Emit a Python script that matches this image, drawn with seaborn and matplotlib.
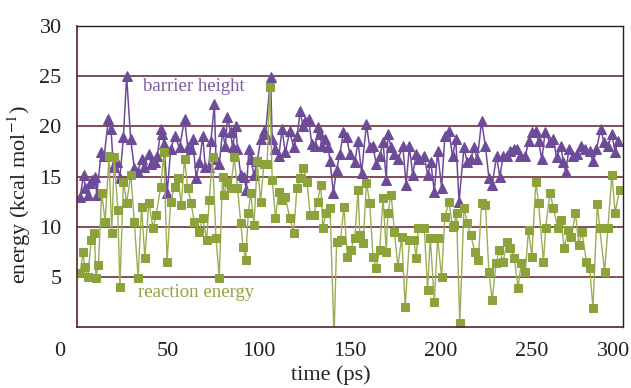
import numpy as np
import pandas as pd
import matplotlib
matplotlib.use("Agg")
import matplotlib.pyplot as plt
import matplotlib.transforms as mtransforms
import seaborn as sns

# barrier height (kcal/mol) vs time (ps)
barrier_time = [
    1.8, 3.6, 4.5, 6.0, 7.3, 8.5, 10.0, 10.9, 13.3, 14.9, 17.3, 18.7, 20.0, 21.8, 23.6, 25.5,
    27.3, 29.5, 31.5, 33.3, 35.5, 36.9, 39.5, 40.9, 42.7, 44.2, 46.0, 46.9, 47.8, 49.6, 51.5,
    53.6, 56.4, 59.1, 60.9, 62.7, 63.6, 65.5, 67.3, 69.1, 70.5, 72.4, 73.6, 75.5, 76.4, 78.2,
    80.0, 81.5, 82.7, 84.5, 85.5, 87.3, 88.2, 90.0, 91.8, 93.1, 94.5, 95.5, 97.3, 99.1, 100.9,
    102.7, 103.6, 106.4, 107.3, 109.1, 110.9, 112.7, 114.5, 116.9, 119.1, 120.9, 122.7, 124.2,
    125.5, 127.3, 129.1, 130.9, 132.7, 133.6, 134.5, 136.4, 138.2, 139.1, 140.9, 142.7, 144.5,
    146.4, 148.2, 150.0, 152.7, 154.5, 156.4, 159.1, 160.9, 162.7, 164.5, 166.4, 168.2, 170.0,
    170.9, 172.7, 174.5, 176.4, 179.1, 180.9, 182.7, 184.5, 186.4, 188.2, 190.9, 192.7, 194.5,
    196.4, 198.2, 200.4, 202.2, 204.5, 206.4, 208.2, 210.0, 212.7, 214.5, 216.4, 218.2, 220.0,
    222.4, 224.5, 226.4, 228.2, 230.6, 232.4, 234.2, 236.4, 238.2, 240.0, 241.8, 243.6, 246.4,
    248.2, 250.0, 252.2, 253.7, 255.5, 257.3, 260.0, 261.8, 263.6, 266.0, 267.3, 268.6, 270.4,
    272.7, 275.1, 277.3, 279.1, 281.8, 283.6, 285.5, 287.8, 289.7, 291.8, 294.0, 295.8, 297.3,
]
barrier = [
    13.0, 15.2, 13.9, 13.2, 14.4, 14.7, 15.0, 13.2, 17.4, 17.0, 20.7, 19.7, 16.0, 16.4, 14.9, 18.9,
    25.0, 18.7, 15.9, 15.5, 16.7, 16.0, 17.2, 16.2, 16.4, 17.0, 19.7, 19.2, 18.2, 13.4, 17.7,
    19.0, 17.9, 20.7, 17.9, 17.7, 18.7, 14.9, 16.4, 19.0, 16.0, 16.0, 18.5, 22.2, 16.7, 16.2,
    19.5, 18.0, 20.9, 19.4, 17.9, 20.0, 17.7, 15.2, 15.0, 13.7, 17.7, 16.7, 15.2, 16.5, 18.7,
    19.5, 19.2, 24.9, 18.7, 17.7, 17.0, 19.7, 17.4, 19.5, 17.9, 19.0, 21.5, 20.0,
    20.5, 20.7, 18.2, 18.0, 19.9, 19.2, 18.0, 18.7, 17.9, 16.5, 13.4, 15.7, 17.2,
    19.4, 18.9, 17.2, 16.4, 18.5, 15.4, 20.2, 17.9, 18.0, 16.2, 17.0, 18.4, 14.7,
    19.2, 17.9, 17.2, 16.7, 18.0, 14.2, 18.0, 15.2, 17.2, 16.7, 17.0, 15.2, 16.4,
    13.5, 17.5, 13.9, 19.0, 19.5, 17.0, 18.7, 12.5, 17.9, 16.4, 16.7, 17.9, 16.7,
    20.5, 18.0, 14.9, 14.2, 17.0, 15.0, 17.0, 17.0, 17.5, 17.7, 17.7, 17.0, 17.0,
    18.5, 19.4, 19.5, 18.5, 16.7, 19.4, 18.4, 18.7, 16.9, 18.0, 16.4, 15.5, 17.7,
    17.0, 17.2, 18.0, 17.7, 17.5, 16.5, 17.7, 19.7, 18.4, 18.0, 19.2, 17.4, 18.5,
]

# reaction energy (kcal/mol) vs time (ps)
reaction_time = [
    1.8, 3.3, 4.2, 6.0, 7.8, 9.6, 10.4, 11.8, 13.6, 15.5, 17.6, 19.1, 20.5, 22.4, 23.6, 25.5,
    27.3, 29.6, 31.5, 33.6, 35.5, 37.3, 39.5, 41.8, 43.6, 46.0, 47.8, 49.5, 51.5,
    53.6, 55.5, 57.3, 59.1, 60.9, 62.7, 64.5, 67.3, 69.1, 71.3, 72.7, 74.5, 76.4, 78.2,
    80.0, 80.9, 82.7, 84.5, 86.4, 88.2, 90.0, 91.3, 92.7, 94.2, 95.5, 97.3, 99.1, 100.9, 102.7,
    104.5, 106.0, 107.3, 109.1, 110.9, 112.7, 114.5, 116.9, 119.1, 120.9, 122.7, 124.2, 126.4,
    128.2, 130.0, 132.2, 134.0, 135.1, 136.9, 139.1, 141.3, 142.7, 144.9, 146.7, 148.6, 150.4,
    152.7, 154.5, 155.5, 157.3, 159.1, 160.9, 162.7, 164.5, 166.4, 168.2, 170.0, 170.9, 172.7,
    174.5, 176.4, 178.5, 180.4, 182.7, 185.1, 186.4, 187.6, 190.9, 192.7, 194.2, 196.4, 198.2,
    200.4, 202.2, 204.5, 206.4, 207.3, 208.6, 210.4, 212.7, 214.5, 216.4, 218.7, 220.6, 222.4,
    224.5, 226.4, 228.2, 230.4, 232.2, 234.2, 236.4, 238.2, 240.4, 242.4, 244.2, 246.4, 248.2,
    250.0, 252.2, 253.7, 256.4, 257.6, 260.0, 261.8, 264.2, 266.0, 267.8, 270.0, 271.8, 274.0,
    275.8, 277.6, 280.0, 281.8, 283.6, 286.0, 287.3, 290.0, 291.8, 294.0, 295.8, 298.2,
]
reaction = [
    5.4, 7.5, 6.0, 5.0, 8.7, 9.4, 4.9, 6.2, 13.4, 10.5, 17.0, 9.4, 16.9, 11.7, 4.0, 14.5,
    12.4, 15.2, 10.5, 4.9, 12.0, 6.9, 12.4, 9.9, 11.2, 14.0, 17.4, 6.5, 12.5,
    14.0, 14.9, 12.2, 16.7, 13.9, 12.4, 10.5, 9.5, 10.9, 8.7, 12.7, 16.9, 8.9, 4.9,
    15.0, 13.2, 14.5, 13.9, 16.9, 13.9, 10.4, 8.0, 6.7, 11.4, 13.4, 10.2, 16.5, 12.5, 16.2,
    16.2, 23.9, 14.7, 10.9, 13.5, 12.7, 13.0, 10.9, 9.4, 13.9, 14.9, 15.9, 14.5,
    11.2, 11.2, 12.5, 14.2, 9.9, 11.4, 11.9, -1.0, 8.5, 8.7, 12.0, 7.0, 7.7,
    8.9, 13.7, 9.2, 8.4, 14.4, 12.4, 7.0, 5.9, 7.7, 12.9, 7.5, 11.4, 13.2,
    9.5, 6.0, 9.0, 2.0, 8.7, 8.7, 6.9, 9.9, 9.9, 3.7, 8.9, 2.5, 8.9,
    5.0, 11.0, 12.5, 10.0, 10.2, 11.4, 0.4, 11.9, 10.4, 9.2, 7.5, 6.7, 12.4,
    12.2, 5.5, 2.7, 6.4, 7.7, 6.5, 8.5, 7.9, 6.9, 3.9, 6.4, 5.5, 9.7,
    7.0, 14.5, 12.4, 6.5, 9.9, 13.4, 11.9, 9.9, 10.7, 7.9, 9.7, 9.0, 11.4,
    8.2, 9.5, 6.5, 5.9, 1.9, 12.3, 9.9, 5.5, 9.9, 15.2, 11.4, 13.7,
]

x_ticks = [0, 50, 100, 150, 200, 250, 300]
y_ticks = [0, 5, 10, 15, 20, 25, 30]

purple = "#6e4b98"
green = "#8ca33c"
maroon = "#5e1f24"

sns.set_style("white")
plt.rcParams["font.family"] = ["Liberation Serif", "DejaVu Serif"]
plt.rcParams["mathtext.fontset"] = "stix"

df_b = pd.DataFrame({"time": barrier_time, "energy": barrier})
df_r = pd.DataFrame({"time": reaction_time, "energy": reaction})

fig = plt.figure(figsize=(6.31, 3.88), dpi=100)
ax = fig.add_axes([0.122, 0.157, 0.865, 0.776])

for y in y_ticks[1:-1]:
    ax.axhline(y, color=maroon, lw=1.1, zorder=0)

sns.lineplot(data=df_b, x="time", y="energy", ax=ax, color=purple, lw=1.1,
             marker="^", markersize=7, markeredgecolor=purple, estimator=None, sort=False)
sns.lineplot(data=df_r, x="time", y="energy", ax=ax, color="#9aae55", lw=1.0,
             marker="s", markersize=6, markerfacecolor=green, markeredgecolor=green,
             estimator=None, sort=False)

ax.set_xlim(0, 300)
ax.set_ylim(0, 30)
ax.set_xticks(x_ticks)
ax.set_yticks(y_ticks)
ax.set_yticklabels([""] + [str(v) for v in y_ticks[1:]])
ax.tick_params(axis="both", direction="out", length=5, width=1.0,
               labelsize=16, pad=6, colors="#222222")
ax.tick_params(axis="both", color=maroon)

# first and last x labels sit left of their ticks in the original
labels = ax.get_xticklabels()
for lab, dx in [(labels[0], -0.17), (labels[-1], -0.09)]:
    lab.set_transform(lab.get_transform()
                      + mtransforms.ScaledTranslation(dx, 0, fig.dpi_scale_trans))

for side in ["left", "bottom"]:
    ax.spines[side].set_color(maroon)
    ax.spines[side].set_linewidth(1.2)
for side in ["top", "right"]:
    ax.spines[side].set_color("#222222")
    ax.spines[side].set_linewidth(1.0)

ax.set_xlabel("time (ps)", fontsize=16, color="#222222")
ax.xaxis.set_label_coords(0.465, -0.128)
ax.set_ylabel(r"energy (kcal mol$^{-1}$)", fontsize=16, color="#222222")
ax.yaxis.set_label_coords(-0.08, 0.44)

ax.text(36.3, 23.5, "barrier height", color="#7a5ca3", fontsize=13.5, va="baseline")
ax.text(33.7, 3.0, "reaction energy", color="#8da640", fontsize=13.5, va="baseline")

fig.savefig("out.png", dpi=100)
